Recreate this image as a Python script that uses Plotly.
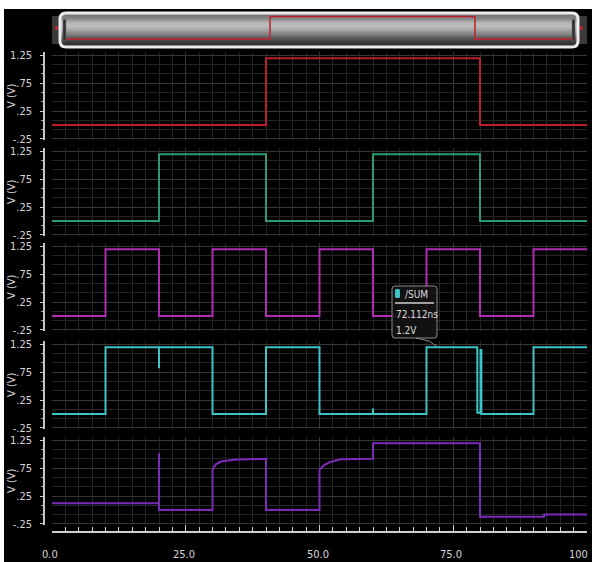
import plotly.graph_objects as go

# ---- waveform data (time in ns, voltage in V) ----
A_t = [0, 40, 40, 80, 80, 100]
A_v = [0, 0, 1.2, 1.2, 0, 0]

B_t = [0, 20, 20, 40, 40, 60, 60, 80, 80, 100]
B_v = [0, 0, 1.2, 1.2, 0, 0, 1.2, 1.2, 0, 0]

C_t = [0, 10, 10, 20, 20, 30, 30, 40, 40, 50, 50, 60, 60, 70, 70, 80, 80, 90, 90, 100]
C_v = [0, 0, 1.2, 1.2, 0, 0, 1.2, 1.2, 0, 0, 1.2, 1.2, 0, 0, 1.2, 1.2, 0, 0, 1.2, 1.2]

SUM_t = [0, 10, 10, 20, 20, 20, 30, 30, 40, 40, 50, 50, 60, 60, 60, 70, 70,
         79.5, 79.5, 80.1, 80.1, 80.25, 80.25, 90, 90, 100]
SUM_v = [0, 0, 1.2, 1.2, 0.82, 1.2, 1.2, 0, 0, 1.2, 1.2, 0, 0, 0.1, 0, 0, 1.2,
         1.2, 0.02, 0.02, 1.15, 1.15, 0, 0, 1.2, 1.2]

CARRY_t = [0, 20, 20, 20, 30, 30, 30.6, 31.6, 34, 40, 40, 50, 50, 50.8, 52, 54,
           60, 60, 80, 80, 92, 92, 100]
CARRY_v = [0.12, 0.12, 1.02, 0, 0, 0.72, 0.82, 0.87, 0.9, 0.92, 0, 0, 0.72, 0.8,
           0.86, 0.91, 0.92, 1.2, 1.2, -0.12, -0.12, -0.08, -0.08]

signals = [
    ("/A", A_t, A_v, "#b8202c"),
    ("/B", B_t, B_v, "#2c9a72"),
    ("/C", C_t, C_v, "#b02cb2"),
    ("/SUM", SUM_t, SUM_v, "#3cc4c6"),
    ("/CARRY", CARRY_t, CARRY_v, "#7a2cb8"),
]

y_tickvals = [-0.25, 0.25, 0.75, 1.25]
y_ticktext = ["-.25", ".25", ".75", "1.25"]
x_tickvals = [0, 25, 50, 75, 100]
x_ticktext = ["0.0", "25.0", "50.0", "75.0", "100"]

cursor_time = "72.112ns"
cursor_value = "1.2V"
cursor_t = 72.112
cursor_v = 1.2

# scrollbar shading levels, bottom row to top row
bar_shade = [0.02, 0.08, 0.18, 0.32, 0.48, 0.62, 0.76, 0.88, 0.95, 0.9, 0.72, 0.55, 0.5]

# ---- page geometry (pixels) ----
W, H = 595, 562


def px(x):
    return x / W


def py(y):
    return 1 - y / H


PLOT_L, PLOT_R = 52, 587
PANEL_TOPS = [52, 148, 243, 341, 437]
PANEL_H = 88
Y_RANGE = [-0.27, 1.31]

FONT = "Liberation Sans Narrow, DejaVu Sans Condensed, sans-serif"
LABEL_COLOR = "#d6d6d6"
GRID_MAJOR = "#363636"
GRID_MINOR = "#252525"

fig = go.Figure()
layout = {}

for i, (name, t, v, col) in enumerate(signals, start=1):
    fig.add_trace(go.Scatter(
        x=t, y=v, mode="lines", name=name,
        line=dict(color=col, width=2, shape="linear"),
        xaxis=f"x{i}", yaxis=f"y{i}", showlegend=False, hoverinfo="skip",
    ))
    top = PANEL_TOPS[i - 1]
    xa = dict(
        domain=[px(PLOT_L), px(PLOT_R)], range=[0, 100], anchor=f"y{i}",
        showgrid=True, gridcolor=GRID_MAJOR, gridwidth=1, zeroline=False,
        tickvals=x_tickvals, ticktext=x_ticktext,
        minor=dict(dtick=2.5, tick0=0, showgrid=True, gridcolor=GRID_MINOR, gridwidth=1),
        showticklabels=False, ticks="", fixedrange=True, automargin=False,
    )
    if i > 1:
        xa["matches"] = "x"
    if i == 5:
        # time axis: line and ticks here, labels placed below as annotations
        xa.update(
            anchor="free", position=py(532), showline=True, linecolor="#cfcfcf",
            linewidth=1.5, ticks="inside", ticklen=6, tickwidth=1, tickcolor="#cfcfcf",
            minor=dict(dtick=2.5, tick0=0, showgrid=True, gridcolor=GRID_MINOR,
                       ticks="inside", ticklen=4, tickcolor="#cfcfcf"),
        )
    layout[f"xaxis{i}" if i > 1 else "xaxis"] = xa
    layout[f"yaxis{i}" if i > 1 else "yaxis"] = dict(
        domain=[py(top + PANEL_H), py(top)], range=Y_RANGE,
        anchor="free", position=px(44),
        showline=True, linecolor="#c8c8c8", linewidth=1.5,
        tickvals=y_tickvals, ticktext=y_ticktext,
        ticks="outside", ticklen=3, tickcolor="#c8c8c8",
        ticklabelstandoff=6, ticklabeloverflow="allow",
        tickfont=dict(family=FONT, size=11, color=LABEL_COLOR),
        showgrid=True, gridcolor=GRID_MAJOR, zeroline=False,
        minor=dict(dtick=0.5 / 3, tick0=-0.25, showgrid=True, gridcolor=GRID_MINOR,
                   ticks="outside", ticklen=2, tickcolor="#a8a8a8"),
        fixedrange=True, automargin=False,
    )

# ---- overview strip (scrollbar) ----
OV_L, OV_R, OV_T, OV_B = 61, 577, 14, 46
ov_xr = [-0.78, 99.9]
ov_yr = [-0.37, 1.33]
n = len(bar_shade)
edges = [ov_yr[0] + (ov_yr[1] - ov_yr[0]) * k / n for k in range(n + 1)]
fig.add_trace(go.Heatmap(
    x=ov_xr, y=edges, z=[[s] for s in bar_shade], zsmooth="best",
    colorscale=[[0, "#2a2a2a"], [1, "#c6c6c6"]], zmin=0, zmax=1,
    showscale=False, hoverinfo="skip", xaxis="x6", yaxis="y6",
))
fig.add_trace(go.Scatter(
    x=A_t, y=A_v, mode="lines", line=dict(color="#c0202c", width=1.5),
    xaxis="x6", yaxis="y6", showlegend=False, hoverinfo="skip",
))
layout["xaxis6"] = dict(domain=[px(OV_L), px(OV_R)], range=ov_xr, anchor="y6",
                        visible=False, fixedrange=True, automargin=False)
layout["yaxis6"] = dict(domain=[py(OV_B), py(OV_T)], range=ov_yr, anchor="x6",
                        visible=False, fixedrange=True, automargin=False)

shapes = []
# dark window background
shapes.append(dict(type="rect", xref="paper", yref="paper", layer="below",
                   x0=px(4), x1=px(592), y0=py(562), y1=py(9),
                   fillcolor="black", line=dict(width=0)))


def rounded(x0, y0, x1, y1, r):
    return (f"M {px(x0 + r)},{py(y0)} L {px(x1 - r)},{py(y0)} "
            f"Q {px(x1)},{py(y0)} {px(x1)},{py(y0 + r)} "
            f"L {px(x1)},{py(y1 - r)} Q {px(x1)},{py(y1)} {px(x1 - r)},{py(y1)} "
            f"L {px(x0 + r)},{py(y1)} Q {px(x0)},{py(y1)} {px(x0)},{py(y1 - r)} "
            f"L {px(x0)},{py(y0 + r)} Q {px(x0)},{py(y0)} {px(x0 + r)},{py(y0)} Z")


# scrollbar end caps with red markers
for cx0, cx1, dot in [(52, 61, 56.5), (577, 587, 581.5)]:
    shapes.append(dict(type="rect", xref="paper", yref="paper", layer="above",
                       x0=px(cx0), x1=px(cx1), y0=py(44), y1=py(16),
                       fillcolor="#3a3a3a", line=dict(width=0)))
    shapes.append(dict(type="circle", xref="paper", yref="paper", layer="above",
                       x0=px(dot - 1.5), x1=px(dot + 1.5), y0=py(30), y1=py(26),
                       fillcolor="#d02030", line=dict(width=0)))
# scrollbar frame
shapes.append(dict(type="path", xref="paper", yref="paper", layer="above",
                   path=rounded(60, 13, 578, 47, 6),
                   line=dict(color="#ececec", width=3)))
# drag handles
for hx in (63, 572):
    shapes.append(dict(type="path", xref="paper", yref="paper", layer="above",
                       path=rounded(hx, 19, hx + 3, 41, 1.5),
                       fillcolor="#303030", line=dict(color="#777777", width=0.5)))

# cursor readout box
shapes.append(dict(type="path", xref="paper", yref="paper", layer="above",
                   path=rounded(392, 286, 437, 338, 3),
                   fillcolor="rgba(18,18,18,0.92)", line=dict(color="#8a8a8a", width=1)))
shapes.append(dict(type="path", xref="paper", yref="paper", layer="above",
                   path=(f"M {px(416)},{py(338)} L {px(429)},{py(341)} "
                         f"L {px(52 + cursor_t * 5.35)},{py(347)}"),
                   line=dict(color="#8a8a8a", width=1)))
shapes.append(dict(type="path", xref="paper", yref="paper", layer="above",
                   path=rounded(395, 289, 400, 298, 1.5),
                   fillcolor="#3cc4c6", line=dict(width=0)))
shapes.append(dict(type="line", xref="paper", yref="paper", layer="above",
                   x0=px(395), x1=px(434), y0=py(303), y1=py(303),
                   line=dict(color="#cfcfcf", width=1.5)))

annotations = []
for i in range(5):
    top = PANEL_TOPS[i]
    annotations.append(dict(text="V (V)", x=px(11), y=py(top + PANEL_H / 2),
                            xref="paper", yref="paper", showarrow=False,
                            textangle=-90, xanchor="center", yanchor="middle",
                            font=dict(family=FONT, size=11, color=LABEL_COLOR)))

# time-axis labels, tied to the time axis scale
tick_font = dict(family=FONT, size=11, color=LABEL_COLOR)
for k, (val, txt) in enumerate(zip(x_tickvals, x_ticktext)):
    last = k == len(x_tickvals) - 1
    annotations.append(dict(text=txt, x=val, xref="x5", y=py(554), yref="paper",
                            showarrow=False, xanchor="right" if last else "center",
                            xshift=3 if last else -2, yanchor="middle",
                            font=tick_font))

box_font = dict(family=FONT, size=10, color="#dcdcdc")
annotations += [
    dict(text="/SUM", x=px(403), y=py(294), xref="paper", yref="paper",
         showarrow=False, xanchor="left", yanchor="middle", font=box_font),
    dict(text=cursor_time, x=px(394), y=py(314), xref="paper", yref="paper",
         showarrow=False, xanchor="left", yanchor="middle", font=box_font),
    dict(text=cursor_value, x=px(394), y=py(330), xref="paper", yref="paper",
         showarrow=False, xanchor="left", yanchor="middle", font=box_font),
]

fig.update_layout(
    width=W, height=H, margin=dict(l=0, r=0, t=0, b=0, pad=0, autoexpand=False),
    paper_bgcolor="white", plot_bgcolor="black",
    showlegend=False, shapes=shapes, annotations=annotations,
    **layout,
)

fig.write_html("out.html", config={"displayModeBar": False})
